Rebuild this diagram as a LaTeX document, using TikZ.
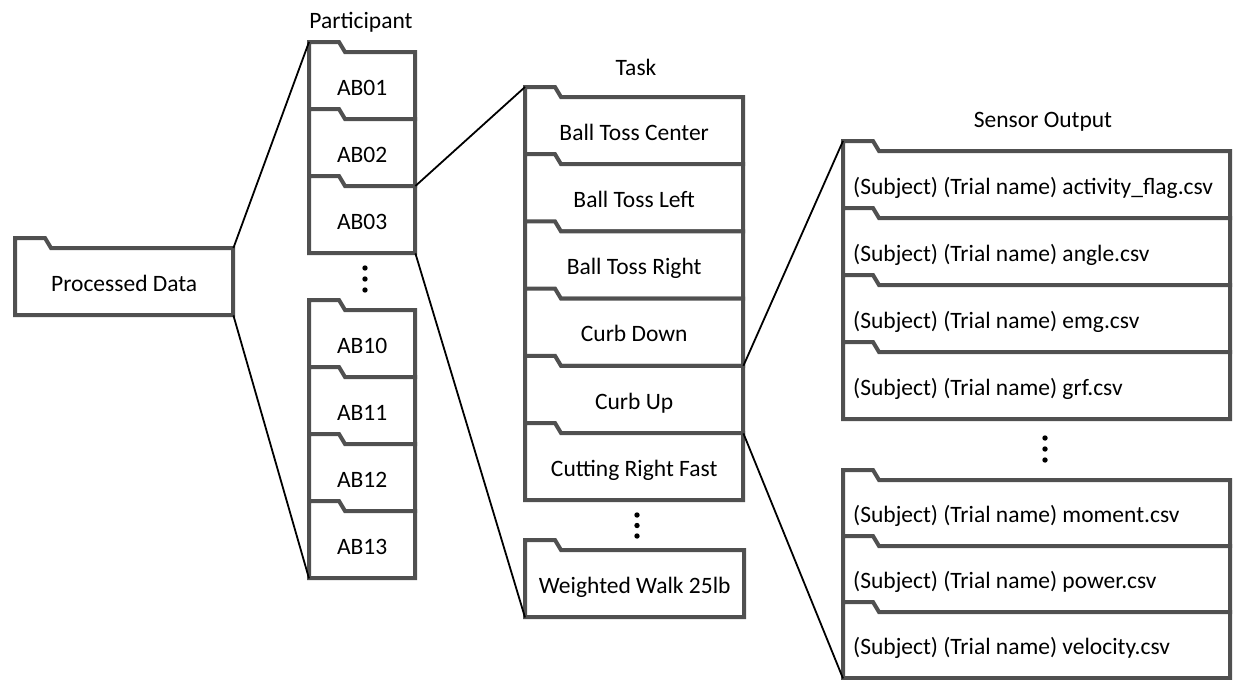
\documentclass[tikz,border=0pt]{standalone}
\usepackage{fontspec}
\setmainfont{Carlito}
\definecolor{fgray}{RGB}{80,80,80}
\newcommand\fs{\fontsize{23.5}{28}\selectfont}
\newcommand\lt[1]{\makebox[367pt][l]{#1}}
\tikzset{
  folderline/.style={draw=fgray, line width=4pt, fill=white, line join=miter},
  fbody/.style={rectangle, inner sep=0pt, anchor=north west, font=\fs, text height=19pt, text depth=0pt},
  lefttext/.style={inner xsep=10pt},
  link/.style={draw=black, line width=1.8pt},
  hdr/.style={font=\fs, anchor=base, inner sep=0pt},
  dotmark/.style={fill=black}
}
% name, left x, tab top y, width, body height, text, extra style
\newcommand\fold[7]{%
  \draw[folderline] (#2,#3) -- ({#2+30},#3) -- ({#2+36},{#3+10}) -- ({#2+#4},{#3+10})
     -- ({#2+#4},{#3+10+#5}) -- (#2,{#3+10+#5}) -- cycle;
  \node[fbody,#7,minimum width=#4pt,minimum height=#5pt] (#1) at (#2,{#3+10}) {#6};
  \coordinate (#1-tab) at (#2,#3);
}
\newcommand\threedots[4]{% x, y1, y2, y3
  \fill[dotmark] (#1,#2) circle (2.7pt);
  \fill[dotmark] (#1,#3) circle (2.7pt);
  \fill[dotmark] (#1,#4) circle (2.7pt);
}
\begin{document}
\begin{tikzpicture}[x=1pt,y=-1pt]
\useasboundingbox (0,0) rectangle (1240,680);

% headers
\node[hdr] (hpart) at (361,28) {Participant};
\node[hdr] (htask) at (636,75) {Task};
\node[hdr] (hsens) at (1043,127) {Sensor Output};

% root
\fold{pd}{15}{238}{218}{67}{Processed Data}{}

% participants
\fold{ab01}{309}{42}{106}{67}{AB01}{}
\fold{ab02}{309}{109}{106}{67}{AB02}{}
\fold{ab03}{309}{176}{106}{67}{AB03}{}
\threedots{365}{268}{279}{290}
\fold{ab10}{309}{300}{106}{67}{AB10}{}
\fold{ab11}{309}{367}{106}{67}{AB11}{}
\fold{ab12}{309}{434}{106}{67}{AB12}{}
\fold{ab13}{309}{501}{106}{67}{AB13}{}

% tasks
\fold{t1}{525}{87}{218}{67.2}{Ball Toss Center}{}
\fold{t2}{525}{154.2}{218}{67.2}{Ball Toss Left}{}
\fold{t3}{525}{221.4}{218}{67.2}{Ball Toss Right}{}
\fold{t4}{525}{288.6}{218}{67.2}{Curb Down}{}
\fold{t5}{525}{355.8}{218}{67.2}{Curb Up}{}
\fold{t6}{525}{423}{218}{67.2}{Cutting Right Fast}{}
\threedots{637}{515}{525.5}{536}
\fold{ww}{525}{540}{219}{67}{Weighted Walk 25lb}{}

% sensor outputs
\fold{s1}{843}{141}{387}{67}{\lt{(Subject) (Trial name) activity\_flag.csv}}{lefttext}
\fold{s2}{843}{208}{387}{67}{\lt{(Subject) (Trial name) angle.csv}}{lefttext}
\fold{s3}{843}{275}{387}{67}{\lt{(Subject) (Trial name) emg.csv}}{lefttext}
\fold{s4}{843}{342}{387}{67}{\lt{(Subject) (Trial name) grf.csv}}{lefttext}
\threedots{1045}{438}{449}{460}
\fold{s5}{843}{470}{387}{66}{\lt{(Subject) (Trial name) moment.csv}}{lefttext}
\fold{s6}{843}{536}{387}{66}{\lt{(Subject) (Trial name) power.csv}}{lefttext}
\fold{s7}{843}{602}{387}{66}{\lt{(Subject) (Trial name) velocity.csv}}{lefttext}

% connectors
\draw[link] (pd.north east) -- (ab01-tab);
\draw[link] (pd.south east) -- (ab13.south west);
\draw[link] (ab03.north east) -- (t1-tab);
\draw[link] (ab03.south east) -- (ww.south west);
\draw[link] (t5.north east) -- (s1-tab);
\draw[link] (t5.south east) -- (s7.south west);
\end{tikzpicture}
\end{document}
